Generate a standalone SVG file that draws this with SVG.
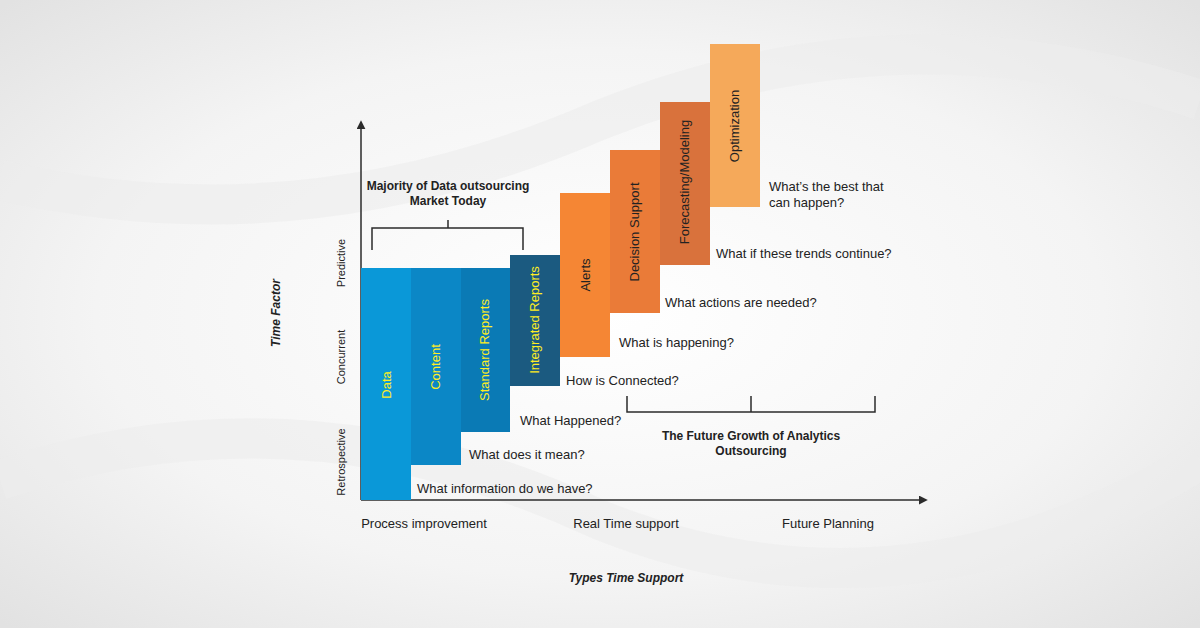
<svg xmlns="http://www.w3.org/2000/svg" width="1200" height="628" viewBox="0 0 1200 628">
<defs>
<radialGradient id="bg" cx="0.5" cy="0.5" r="0.7"><stop offset="0" stop-color="#ffffff"/><stop offset="0.6" stop-color="#f4f4f4"/><stop offset="1" stop-color="#e2e2e2"/></radialGradient>
<marker id="ar" viewBox="0 0 10 10" refX="8" refY="5" markerWidth="6" markerHeight="6" orient="auto"><path d="M0,0L10,5L0,10z" fill="#2b2b2b"/></marker>
<style>
text{font-family:"Liberation Sans",Arial,sans-serif;}
.q{font-size:13px;fill:#222;}
.bl{font-size:13px;fill:#ffee22;}
.or{font-size:13px;fill:#222;}
.ax{font-size:11px;fill:#222;}
.b{font-size:12px;font-weight:bold;fill:#222;}
.it{font-size:12px;font-weight:bold;font-style:italic;fill:#222;}
.ln{stroke:#2b2b2b;stroke-width:1.5;fill:none;}
</style>
</defs>
<rect width="1200" height="628" fill="url(#bg)"/>
<path d="M0,180 Q300,250 600,120 Q900,0 1200,100" fill="none" stroke="#ececec" stroke-width="40" opacity="0.6"/>
<path d="M0,480 Q300,380 600,520 Q900,640 1200,460" fill="none" stroke="#ececec" stroke-width="40" opacity="0.6"/>
<g id="connectors">
<line class="ln" x1="361" y1="500" x2="361" y2="122" marker-end="url(#ar)"/>
<line class="ln" x1="361" y1="500" x2="926" y2="500" marker-end="url(#ar)"/>
<path class="ln" d="M372,250 V228 H523 V250 M448,228 V220" stroke-width="1.2"/>
<path class="ln" d="M627,396 V412 H875 V396 M751,412 V396" stroke-width="1.2"/>
</g>
<g id="data"><rect x="361" y="268" width="50" height="232" fill="#0a98d8"/><text class="bl" transform="translate(391,385) rotate(-90)" text-anchor="middle">Data</text></g>
<g id="content"><rect x="411" y="268" width="50" height="197" fill="#0b87c6"/><text class="bl" transform="translate(440,367) rotate(-90)" text-anchor="middle">Content</text></g>
<g id="standard"><rect x="461" y="268" width="49" height="164" fill="#0a7ab5"/><text class="bl" transform="translate(489,350) rotate(-90)" text-anchor="middle">Standard Reports</text></g>
<g id="integrated"><rect x="510" y="255" width="50" height="131" fill="#1b5a80"/><text class="bl" transform="translate(539,320) rotate(-90)" text-anchor="middle">Integrated Reports</text></g>
<g id="alerts"><rect x="560" y="193" width="50" height="164" fill="#f58634"/><text class="or" transform="translate(590,275) rotate(-90)" text-anchor="middle">Alerts</text></g>
<g id="decision"><rect x="610" y="150" width="50" height="163" fill="#ea7b38"/><text class="or" transform="translate(639,232) rotate(-90)" text-anchor="middle">Decision Support</text></g>
<g id="forecasting"><rect x="660" y="102" width="50" height="163" fill="#d9723c"/><text class="or" transform="translate(689,182) rotate(-90)" text-anchor="middle">Forecasting/Modeling</text></g>
<g id="optimization"><rect x="710" y="44" width="50" height="163" fill="#f5a95a"/><text class="or" transform="translate(739,126) rotate(-90)" text-anchor="middle">Optimization</text></g>
<g id="questions">
<text class="q" x="417" y="493">What information do we have?</text>
<text class="q" x="469" y="459">What does it mean?</text>
<text class="q" x="520" y="425">What Happened?</text>
<text class="q" x="566" y="385">How is Connected?</text>
<text class="q" x="619" y="347">What is happening?</text>
<text class="q" x="665" y="307">What actions are needed?</text>
<text class="q" x="716" y="258">What if these trends continue?</text>
<text class="q" x="769" y="191">What’s the best that</text>
<text class="q" x="769" y="207">can happen?</text>
</g>
<g id="labels">
<text class="b" x="448" y="190" text-anchor="middle">Majority of Data outsourcing</text>
<text class="b" x="448" y="205" text-anchor="middle">Market Today</text>
<text class="b" x="751" y="440" text-anchor="middle">The Future Growth of Analytics</text>
<text class="b" x="751" y="455" text-anchor="middle">Outsourcing</text>
<text class="ax" transform="translate(345,462) rotate(-90)" text-anchor="middle">Retrospective</text>
<text class="ax" transform="translate(345,357) rotate(-90)" text-anchor="middle">Concurrent</text>
<text class="ax" transform="translate(345,263) rotate(-90)" text-anchor="middle">Predictive</text>
<text class="it" transform="translate(280,313) rotate(-90)" text-anchor="middle">Time Factor</text>
<text class="q" x="424" y="528" text-anchor="middle">Process improvement</text>
<text class="q" x="626" y="528" text-anchor="middle">Real Time support</text>
<text class="q" x="828" y="528" text-anchor="middle">Future Planning</text>
<text class="it" x="626" y="582" text-anchor="middle">Types Time Support</text>
</g>
</svg>
